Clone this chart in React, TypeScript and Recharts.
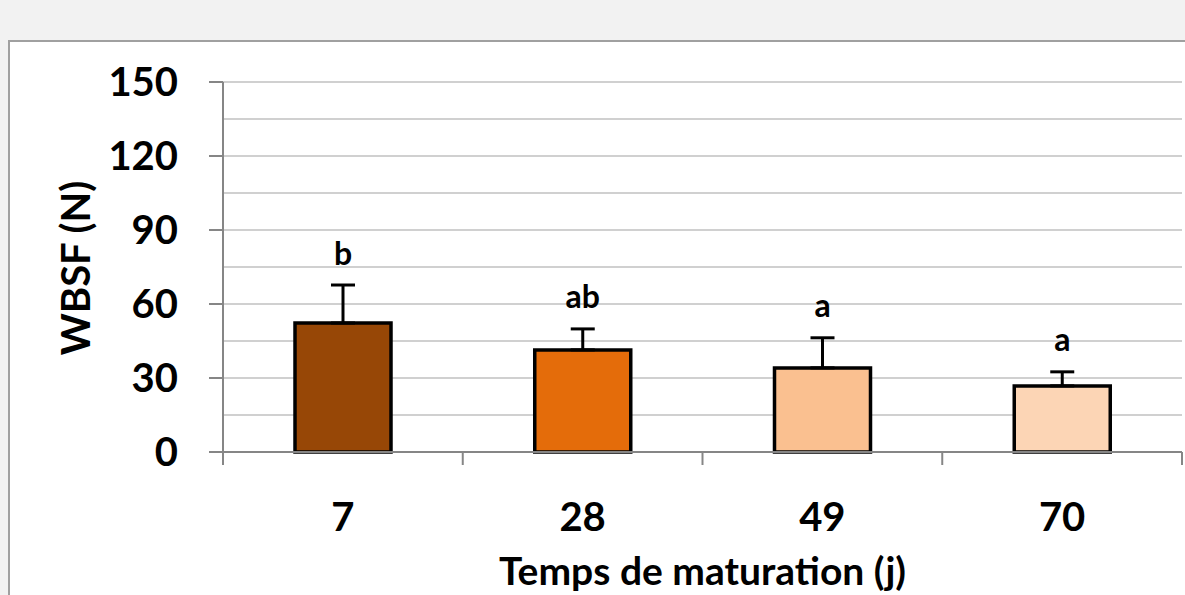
import React from "react";
import {
  BarChart,
  Bar,
  XAxis,
  YAxis,
  CartesianGrid,
  ErrorBar,
  LabelList,
  Cell,
} from "recharts";

// maturation times (days) and measured shear force
const categories = ["7", "28", "49", "70"];
const wbsf = [52.3, 41.4, 34.1, 26.8];
const sd = [15.4, 8.5, 12.2, 5.7];
const letters = ["b", "ab", "a", "a"];
const colors = ["#974706", "#E46C0A", "#FAC090", "#FCD5B5"];
const yTicks = [0, 30, 60, 90, 120, 150];
const gridValues = [0, 15, 30, 45, 60, 75, 90, 105, 120, 135, 150];

const W = 1185;
const H = 595;
const PLOT_LEFT = 223;
const PLOT_RIGHT = 1182;
const FONT = "Lato, 'Open Sans', sans-serif";
const AXIS_GRAY = "#868686";

const data = categories.map((c, i) => ({
  name: c,
  value: wbsf[i],
  err: [0, sd[i]],
  letter: letters[i],
}));

const band = (PLOT_RIGHT - PLOT_LEFT) / categories.length;

const XTick = (props: any) => {
  const { x, y, payload, index } = props;
  const left = x - band / 2;
  return (
    <g>
      <line x1={left} x2={left} y1={y} y2={y + 13} stroke={AXIS_GRAY} strokeWidth={2} />
      {index === categories.length - 1 && (
        <line x1={x + band / 2} x2={x + band / 2} y1={y} y2={y + 13} stroke={AXIS_GRAY} strokeWidth={2} />
      )}
      <text
        x={x}
        y={y + 64}
        textAnchor="middle"
        dominantBaseline="central"
        fontFamily={FONT}
        fontWeight="bold"
        fontSize={40}
        fill="#000"
      >
        {payload.value}
      </text>
    </g>
  );
};

const LetterLabel = (props: any) => {
  const { x, y, width, height, value, index } = props;
  const perUnit = height / wbsf[index];
  const errTop = y - sd[index] * perUnit;
  return (
    <text
      x={x + width / 2}
      y={errTop - 33}
      textAnchor="middle"
      dominantBaseline="central"
      fontFamily={FONT}
      fontWeight="bold"
      fontSize={32}
      fill="#000"
    >
      {value}
    </text>
  );
};

export default function App() {
  return (
    <div
      style={{
        position: "absolute",
        left: 0,
        top: 0,
        width: W,
        height: H,
        overflow: "hidden",
        background: "#f2f2f2",
      }}
    >
      <div
        style={{
          position: "absolute",
          left: 8,
          top: 40,
          width: 1220,
          height: 620,
          background: "#fff",
          border: "2px solid #a0a0a0",
        }}
      />
      <div style={{ position: "absolute", left: 0, top: 0 }}>
        <BarChart
          width={W}
          height={H}
          data={data}
          margin={{ top: 82, right: W - PLOT_RIGHT, left: 0, bottom: 0 }}
        >
          <CartesianGrid
            vertical={false}
            horizontalValues={gridValues}
            stroke="#c0c0c0"
            strokeWidth={1.5}
          />
          <XAxis
            dataKey="name"
            height={H - 452}
            axisLine={{ stroke: AXIS_GRAY, strokeWidth: 2 }}
            tickLine={false}
            tickSize={0}
            tickMargin={0}
            tick={<XTick />}
            interval={0}
            label={{
              value: "Temps de maturation (j)",
              content: (p: any) => {
                const vb = p.viewBox;
                return (
                  <text
                    x={vb.x + vb.width / 2}
                    y={vb.y + 118}
                    textAnchor="middle"
                    dominantBaseline="central"
                    fontFamily={FONT}
                    fontWeight="bold"
                    fontSize={39}
                    fill="#000"
                  >
                    Temps de maturation (j)
                  </text>
                );
              },
            }}
          />
          <YAxis
            width={PLOT_LEFT}
            domain={[0, 150]}
            ticks={yTicks}
            interval={0}
            axisLine={{ stroke: AXIS_GRAY, strokeWidth: 2 }}
            tickLine={{ stroke: AXIS_GRAY, strokeWidth: 2 }}
            tickSize={14}
            tickMargin={31}
            tick={{ fontFamily: FONT, fontWeight: "bold", fontSize: 40, fill: "#000" }}
            label={{
              value: "WBSF (N)",
              content: () => (
                <text
                  x={75}
                  y={268}
                  transform="rotate(-90 75 268)"
                  textAnchor="middle"
                  dominantBaseline="central"
                  fontFamily={FONT}
                  fontWeight="bold"
                  fontSize={40}
                  fill="#000"
                >
                  WBSF (N)
                </text>
              ),
            }}
          />
          <Bar
            dataKey="value"
            barSize={96}
            stroke="#000"
            strokeWidth={3.5}
            isAnimationActive={false}
          >
            {data.map((d, i) => (
              <Cell key={d.name} fill={colors[i]} />
            ))}
            <ErrorBar dataKey="err" width={12} stroke="#000" strokeWidth={3} />
            <LabelList dataKey="letter" content={<LetterLabel />} />
          </Bar>
        </BarChart>
      </div>
    </div>
  );
}
